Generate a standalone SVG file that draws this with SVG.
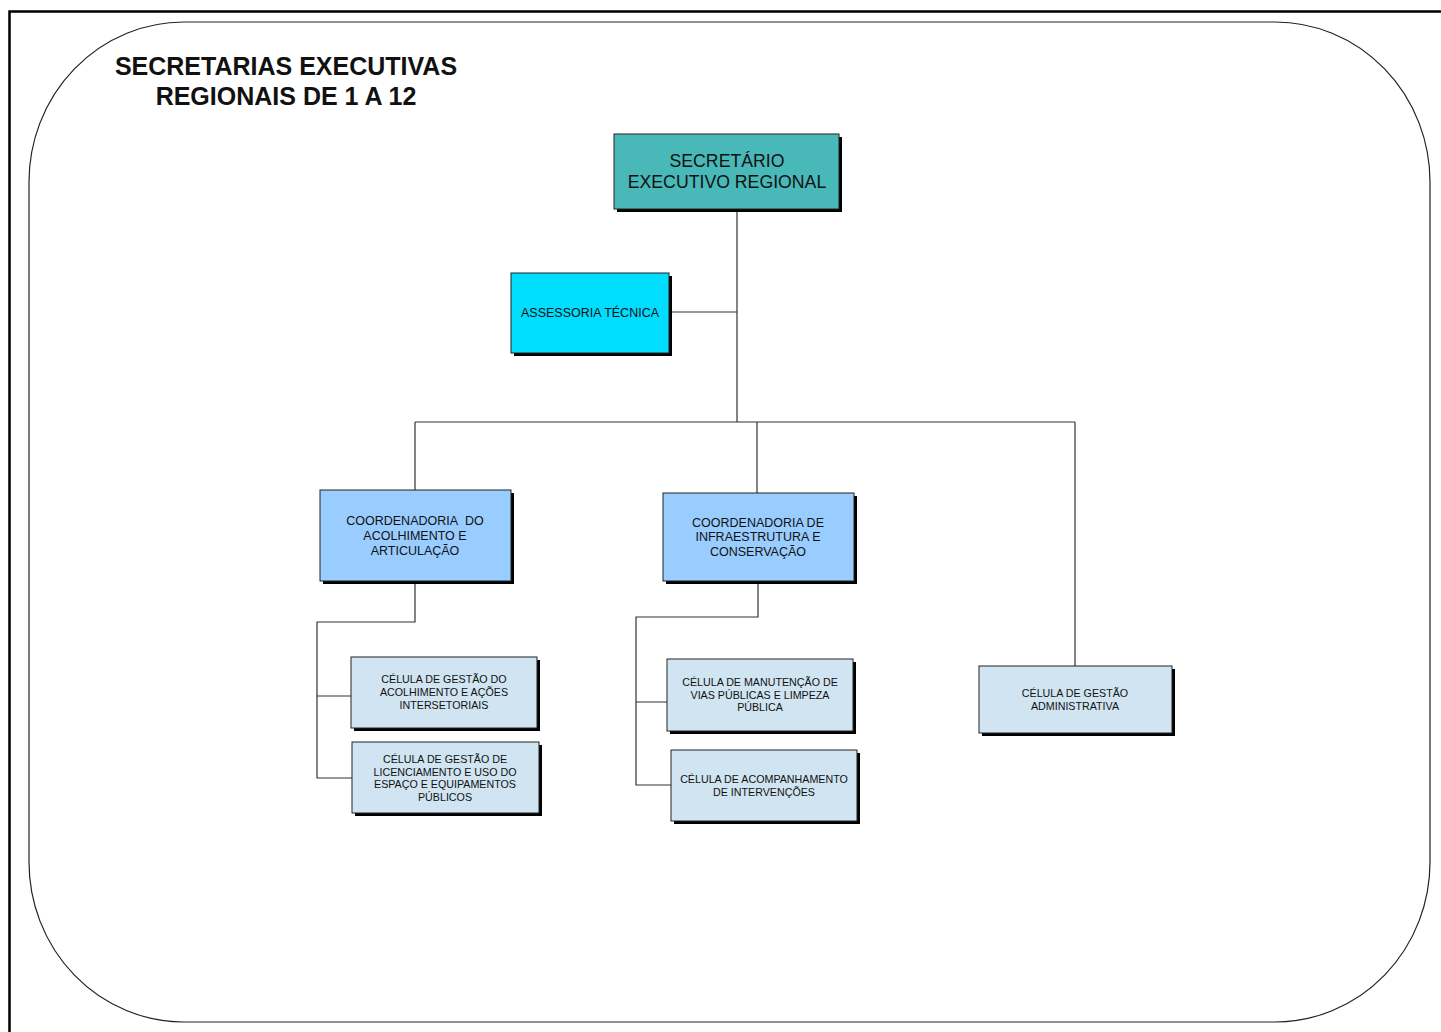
<svg xmlns="http://www.w3.org/2000/svg" width="1441" height="1032" viewBox="0 0 1441 1032">
<defs>
<style>
.box{stroke:#222;stroke-width:1}
.sh{fill:#000}
.t{font-family:"Liberation Sans",Arial,sans-serif;fill:#111;text-anchor:middle}
.c{fill:none;stroke:#333;stroke-width:1.2}
</style>
</defs>
<rect width="1441" height="1032" fill="#fff"/>
<path d="M9.5,1032 V11.5 H1441" fill="none" stroke="#000" stroke-width="2.5"/>
<rect x="29" y="22" width="1401" height="1000" rx="155" ry="160" fill="none" stroke="#222" stroke-width="1.2"/>
<g id="title">
<text class="t" x="286" y="75" font-size="25" font-weight="bold">SECRETARIAS EXECUTIVAS</text>
<text class="t" x="286" y="105" font-size="25" font-weight="bold">REGIONAIS DE 1 A 12</text>
</g>
<g id="connectors">
<path class="c" d="M737,210 V422 M670,312 H737 M415,422 H1075 M415,422 V490 M757,422 V493 M1075,422 V666"/>
<path class="c" d="M415,582 V622 H317 V778 H352 M317,696 H351"/>
<path class="c" d="M758,582 V617 H636 V785 H671 M636,702 H667"/>
</g>
<g id="secretario">
<rect class="sh" x="617" y="137" width="225" height="75"/>
<rect class="box" x="614" y="134" width="225" height="75" fill="#48B8B8"/>
<text class="t" x="727" y="167" font-size="17.7">SECRETÁRIO</text>
<text class="t" x="727" y="188" font-size="17.7">EXECUTIVO REGIONAL</text>
</g>
<g id="assessoria">
<rect class="sh" x="514" y="276" width="158" height="80"/>
<rect class="box" x="511" y="273" width="158" height="80" fill="#00DDFF"/>
<text class="t" x="590" y="317" font-size="12.5">ASSESSORIA TÉCNICA</text>
</g>
<g id="coord-acolhimento">
<rect class="sh" x="323" y="493" width="191" height="91"/>
<rect class="box" x="320" y="490" width="191" height="91" fill="#99CCFF"/>
<text class="t" x="415" y="525" font-size="12.5">COORDENADORIA&#160; DO</text>
<text class="t" x="415" y="540" font-size="12.5">ACOLHIMENTO E</text>
<text class="t" x="415" y="555" font-size="12.5">ARTICULAÇÃO</text>
</g>
<g id="coord-infra">
<rect class="sh" x="666" y="496" width="191" height="88"/>
<rect class="box" x="663" y="493" width="191" height="88" fill="#99CCFF"/>
<text class="t" x="758" y="527" font-size="12.5">COORDENADORIA DE</text>
<text class="t" x="758" y="541" font-size="12.5">INFRAESTRUTURA E</text>
<text class="t" x="758" y="556" font-size="12.5">CONSERVAÇÃO</text>
</g>
<g id="cel-acolhimento">
<rect class="sh" x="354" y="660" width="186" height="71"/>
<rect class="box" x="351" y="657" width="186" height="71" fill="#D0E4F2"/>
<text class="t" x="444" y="683" font-size="10.7">CÉLULA DE GESTÃO DO</text>
<text class="t" x="444" y="696" font-size="10.7">ACOLHIMENTO E AÇÕES</text>
<text class="t" x="444" y="709" font-size="10.7">INTERSETORIAIS</text>
</g>
<g id="cel-licenciamento">
<rect class="sh" x="355" y="745" width="187" height="71"/>
<rect class="box" x="352" y="742" width="187" height="71" fill="#D0E4F2"/>
<text class="t" x="445" y="763" font-size="10.7">CÉLULA DE GESTÃO DE</text>
<text class="t" x="445" y="776" font-size="10.7">LICENCIAMENTO E USO DO</text>
<text class="t" x="445" y="788" font-size="10.7">ESPAÇO E EQUIPAMENTOS</text>
<text class="t" x="445" y="801" font-size="10.7">PÚBLICOS</text>
</g>
<g id="cel-manutencao">
<rect class="sh" x="670" y="662" width="186" height="72"/>
<rect class="box" x="667" y="659" width="186" height="72" fill="#D0E4F2"/>
<text class="t" x="760" y="686" font-size="10.7">CÉLULA DE MANUTENÇÃO DE</text>
<text class="t" x="760" y="699" font-size="10.7">VIAS PÚBLICAS E LIMPEZA</text>
<text class="t" x="760" y="711" font-size="10.7">PÚBLICA</text>
</g>
<g id="cel-acompanhamento">
<rect class="sh" x="674" y="753" width="186" height="71"/>
<rect class="box" x="671" y="750" width="186" height="71" fill="#D0E4F2"/>
<text class="t" x="764" y="783" font-size="10.7">CÉLULA DE ACOMPANHAMENTO</text>
<text class="t" x="764" y="796" font-size="10.7">DE INTERVENÇÕES</text>
</g>
<g id="cel-administrativa">
<rect class="sh" x="982" y="669" width="193" height="67"/>
<rect class="box" x="979" y="666" width="193" height="67" fill="#D0E4F2"/>
<text class="t" x="1075" y="697" font-size="10.7">CÉLULA DE GESTÃO</text>
<text class="t" x="1075" y="710" font-size="10.7">ADMINISTRATIVA</text>
</g>
</svg>
